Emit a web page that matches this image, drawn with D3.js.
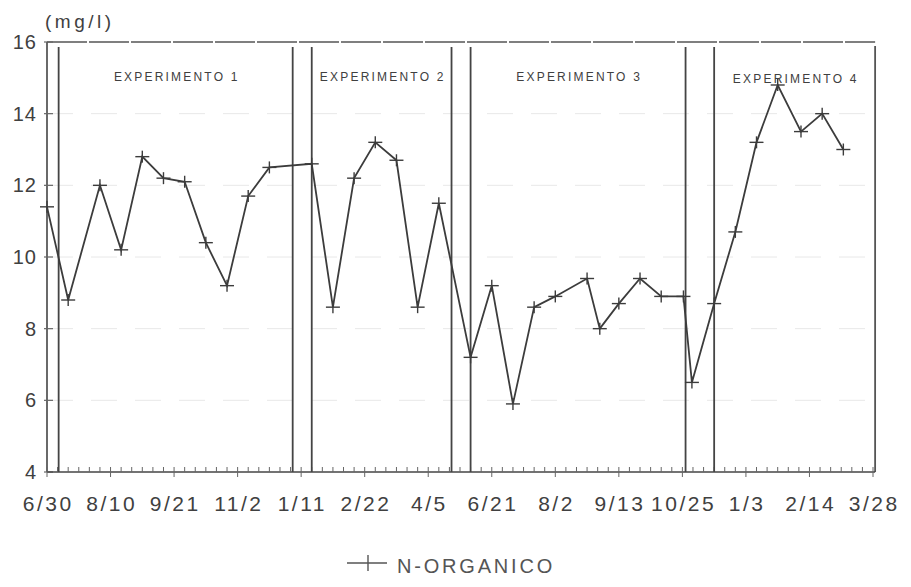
<!DOCTYPE html>
<html>
<head>
<meta charset="utf-8">
<title>N-Organico</title>
<script src="https://d3js.org/d3.v7.min.js"></script>
<style>
  body { margin: 0; background: #fff; }
  text { font-family: "Liberation Sans", Arial, sans-serif; fill: #404040; }
</style>
</head>
<body>
<div id="chart"></div>
<script>
// weekly index on the x axis (one major label every 6 weeks)
var weeks = [0, 2, 5, 7, 9, 11, 13, 15, 17, 19, 21, 25,
             27, 29, 31, 33, 35, 37, 40,
             42, 44, 46, 48, 51, 52.2, 54, 56, 58, 60.1,
             60.9, 63, 65, 67, 69, 71.2, 73.2, 75.2];
var nOrganico = [11.4, 8.8, 12.0, 10.2, 12.8, 12.2, 12.1, 10.4, 9.2, 11.7, 12.5, 12.6,
                 8.6, 12.2, 13.2, 12.7, 8.6, 11.5, 7.2,
                 9.2, 5.9, 8.6, 8.9, 9.4, 8.0, 8.7, 9.4, 8.9, 8.9,
                 6.5, 8.7, 10.7, 13.2, 14.8, 13.5, 14.0, 13.0];
var dateLabels = ["6/30", "8/10", "9/21", "11/2", "1/11", "2/22", "4/5",
                  "6/21", "8/2", "9/13", "10/25", "1/3", "2/14", "3/28"];
var yTicks = [4, 6, 8, 10, 12, 14, 16];
// experiment boundaries (pairs of vertical lines), in weeks
var separators = [0, 1.1, 23.2, 25, 38.2, 40, 60.3, 63, 78.2];
var experiments = ["EXPERIMENTO 1", "EXPERIMENTO 2", "EXPERIMENTO 3", "EXPERIMENTO 4"];

var width = 911, height = 587;
var svg = d3.select("#chart").append("svg")
  .attr("width", width)
  .attr("height", height);

var x = d3.scaleLinear().domain([0, 78]).range([47, 873]);
var y = d3.scaleLinear().domain([4, 16]).range([472, 42]);

var data = weeks.map(function(w, i) { return { w: w, v: nOrganico[i] }; });

// faint grid
svg.append("g").selectAll("line")
  .data(yTicks.filter(function(t) { return t > 4 && t < 16; }))
  .enter().append("line")
  .attr("x1", x(0)).attr("x2", x(78))
  .attr("y1", function(d) { return y(d); })
  .attr("y2", function(d) { return y(d); })
  .attr("stroke", "#e8e8e8")
  .attr("stroke-width", 1)
  .attr("stroke-dasharray", "26,18");

// top and right frame
svg.append("line")
  .attr("x1", x(0)).attr("x2", x(78.2))
  .attr("y1", y(16)).attr("y2", y(16))
  .attr("stroke", "#555").attr("stroke-width", 1.4)
  .attr("stroke-dasharray", "40,2");
svg.append("line")
  .attr("x1", x(78.2)).attr("x2", x(78.2))
  .attr("y1", y(16) + 4).attr("y2", y(4))
  .attr("stroke", "#555").attr("stroke-width", 1.8);

// left axis
svg.append("line")
  .attr("x1", x(0)).attr("x2", x(0))
  .attr("y1", y(16)).attr("y2", y(4))
  .attr("stroke", "#444").attr("stroke-width", 1.6);
var yAxis = svg.append("g");
yAxis.selectAll("line")
  .data(yTicks)
  .enter().append("line")
  .attr("x1", x(0) - 3).attr("x2", x(0) + 6)
  .attr("y1", function(d) { return y(d); })
  .attr("y2", function(d) { return y(d); })
  .attr("stroke", "#666").attr("stroke-width", 1.2);
yAxis.selectAll("text")
  .data(yTicks)
  .enter().append("text")
  .attr("x", 37)
  .attr("y", function(d) { return y(d) + 7; })
  .attr("text-anchor", "end")
  .style("font-size", "20px")
  .style("letter-spacing", "1px")
  .text(function(d) { return d; });

svg.append("text")
  .attr("x", 45).attr("y", 28)
  .style("font-size", "19px")
  .style("letter-spacing", "3.5px")
  .text("(mg/l)");

// bottom axis
svg.append("line")
  .attr("x1", x(0)).attr("x2", x(78.2))
  .attr("y1", y(4)).attr("y2", y(4))
  .attr("stroke", "#444").attr("stroke-width", 1.5);
svg.append("g").selectAll("line")
  .data(d3.range(0, 79))
  .enter().append("line")
  .attr("x1", function(d) { return x(d); })
  .attr("x2", function(d) { return x(d); })
  .attr("y1", function(d) { return y(4) - 5; })
  .attr("y2", function(d) { return d % 6 === 0 ? y(4) + 5 : y(4); })
  .attr("stroke", "#666").attr("stroke-width", 1);
svg.append("g").selectAll("text")
  .data(dateLabels)
  .enter().append("text")
  .attr("x", function(d, i) { return x(i * 6); })
  .attr("dx", 1.2)
  .attr("y", 511)
  .attr("text-anchor", "middle")
  .style("font-size", "21px")
  .style("letter-spacing", "2.5px")
  .text(function(d) { return d; });

// experiment separators
svg.append("g").selectAll("line")
  .data(separators.slice(1, separators.length - 1))
  .enter().append("line")
  .attr("x1", function(d) { return x(d); })
  .attr("x2", function(d) { return x(d); })
  .attr("y1", y(16) + 5).attr("y2", y(4))
  .attr("stroke", "#444").attr("stroke-width", 1.8);

svg.append("g").selectAll("text")
  .data(experiments)
  .enter().append("text")
  .attr("x", function(d, i) { return (x(separators[i * 2 + 1]) + x(separators[i * 2 + 2])) / 2; })
  .attr("dx", 1.1)
  .attr("y", function(d, i) { return i === 3 ? 83 : 81; })
  .attr("text-anchor", "middle")
  .style("font-size", "12px")
  .style("letter-spacing", "2.2px")
  .text(function(d) { return d; });

// data line
svg.append("path")
  .datum(data)
  .attr("fill", "none")
  .attr("stroke", "#3c3c3c")
  .attr("stroke-width", 1.8)
  .attr("d", d3.line()
    .x(function(d) { return x(d.w); })
    .y(function(d) { return y(d.v); }));

// cross markers
var marks = svg.append("g").selectAll("g")
  .data(data)
  .enter().append("g")
  .attr("transform", function(d) { return "translate(" + x(d.w) + "," + y(d.v) + ")"; });
marks.append("line")
  .attr("x1", -7).attr("x2", 7).attr("y1", 0).attr("y2", 0)
  .attr("stroke", "#3c3c3c").attr("stroke-width", 1.4);
marks.append("line")
  .attr("x1", 0).attr("x2", 0).attr("y1", -6).attr("y2", 6)
  .attr("stroke", "#3c3c3c").attr("stroke-width", 1.4);

// legend
var legend = svg.append("g").attr("transform", "translate(347,563)");
legend.append("line")
  .attr("x1", 0).attr("x2", 40).attr("y1", 0).attr("y2", 0)
  .attr("stroke", "#555").attr("stroke-width", 1.4);
legend.append("line")
  .attr("x1", 21).attr("x2", 21).attr("y1", -8).attr("y2", 8)
  .attr("stroke", "#555").attr("stroke-width", 1.4);
legend.append("text")
  .attr("x", 50).attr("y", 10)
  .style("font-size", "20px")
  .style("letter-spacing", "2.8px")
  .style("fill", "#555")
  .text("N-ORGANICO");
</script>
</body>
</html>
